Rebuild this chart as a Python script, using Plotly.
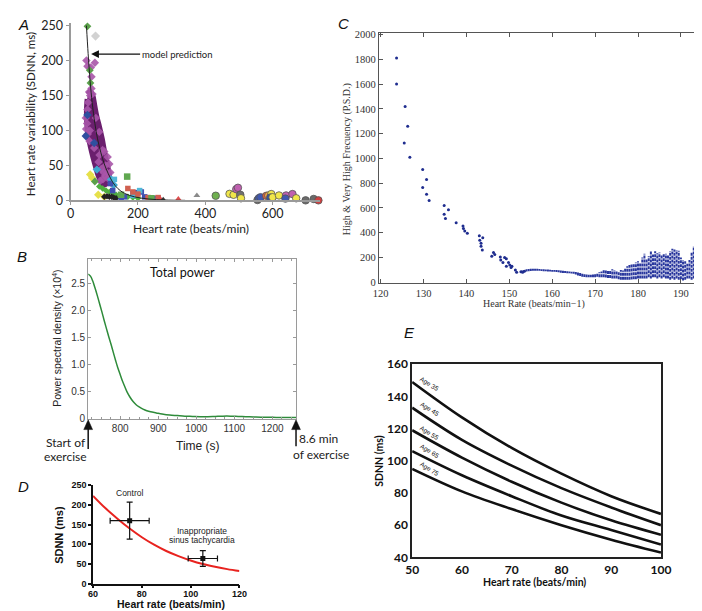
import plotly.graph_objects as go

W, H = 702, 611

# ---------------- Panel A data ----------------
core_hr = [52, 58, 66, 72, 78, 86, 94, 100, 106, 112, 115, 110, 100, 90, 82, 74, 66, 58, 52, 48, 47, 49]
core_sdnn = [152, 156, 150, 135, 120, 105, 88, 72, 58, 45, 35, 26, 22, 26, 35, 48, 62, 78, 92, 110, 128, 145]

purple_hr = [47, 50, 60, 62, 72, 55, 58, 65, 52, 75, 85, 95, 104, 108, 96, 88, 110, 100, 86, 57,
             50, 49, 51, 56, 83, 91, 98, 102, 70, 118, 115, 120, 110, 62, 45, 46, 122]
purple_sdnn = [200, 192, 190, 177, 197, 155, 150, 152, 140, 118, 98, 72, 50, 40, 30, 28, 32, 70, 65, 100,
               130, 110, 95, 85, 55, 45, 40, 35, 75, 40, 52, 30, 62, 160, 118, 102, 24]

model_hr = [47, 52, 58, 64, 72, 80, 90, 100, 112, 125, 140, 160, 190, 230, 280, 340]
model_sdnn = [250, 210, 170, 140, 110, 88, 68, 52, 38, 26, 17, 10, 5, 2, 0.5, 0]

blue_d_hr = [45, 50, 70]
blue_d_sdnn = [92, 122, 82]
cyan_d_hr = [78, 120, 128]
cyan_d_sdnn = [44, 30, 22]
yellow_d_hr = [58, 64, 82, 100]
yellow_d_sdnn = [37, 32, 8, 5]
green_d_hr = [50, 57, 59, 72]
green_d_sdnn = [249, 186, 168, 27]
grey_d_hr = [74]
grey_d_sdnn = [235]

green_x_hr = [85, 95, 105, 115, 125, 135, 145, 155, 170, 185, 200]
green_x_sdnn = [20, 17, 14, 12, 10, 8, 7, 6, 5, 4, 3]
black_hr = [100, 108, 115, 122, 128, 135]
black_sdnn = [5, 6, 5, 5, 4, 3]

blue_s_hr = [118, 125, 150, 160, 185, 195, 210, 220, 250]
blue_s_sdnn = [24, 14, 4, 5, 10, 11, 12, 5, 3]
cyan_s_hr = [130, 205, 185]
cyan_s_sdnn = [30, 14, 7]
red_s_hr = [170, 185, 200, 230, 260]
red_s_sdnn = [17, 12, 9, 4, 4]
green_s_hr = [168, 150, 240]
green_s_sdnn = [34, 8, 3]

tri_hr = [265, 320, 375, 275]
tri_sdnn = [3, 2, 7, 1]
tri_col = ["#e05050", "#e05050", "#8a8a8a", "#333333"]

circ_hr = [431, 472, 484, 492, 497, 504, 506, 555, 559, 564, 581, 587, 596, 593, 600, 619, 640, 638, 659, 670, 698, 722, 736]
circ_sdnn = [6.6, 9.3, 8, 16, 18, 8, 3, 0.5, 3, 4.5, 6.5, 7, 9, 4, 4.5, 7, 7, 2.5, 9, 3, 0, 2, 0]
circ_col = ["#6fb04f", "#f0e64a", "#f0e64a", "#c060b0", "#c060b0", "#707070", "#f0e64a", "#6a6a6a",
            "#4058b0", "#4058b0", "#e06040", "#f0a040", "#f0e64a", "#3050a0", "#f0e64a", "#f0e64a",
            "#c060b0", "#4058b0", "#c060b0", "#f0e64a", "#6a6a6a", "#6a6a6a", "#d04040"]

# ---------------- Panel B data ----------------
time_s = [716, 722, 728, 734, 740, 746, 752, 758, 764, 770, 776, 782, 788, 794, 800, 806, 812, 818,
          826, 834, 842, 850, 860, 870, 880, 895, 910, 930, 950, 970, 990, 1010, 1030, 1050, 1070,
          1090, 1110, 1130, 1150, 1170, 1190, 1210, 1230, 1262]
psd = [2.68, 2.64, 2.55, 2.42, 2.28, 2.13, 1.98, 1.82, 1.67, 1.52, 1.38, 1.23, 1.08, 0.94, 0.82, 0.70,
       0.60, 0.50, 0.40, 0.32, 0.26, 0.22, 0.18, 0.15, 0.13, 0.11, 0.09, 0.07, 0.06, 0.05, 0.045, 0.04,
       0.04, 0.045, 0.05, 0.05, 0.045, 0.04, 0.035, 0.03, 0.03, 0.025, 0.025, 0.025]

# ---------------- Panel C data ----------------
c_hr = [123.7, 123.7, 125.7, 126.3, 125.5, 126.8, 129.8, 129.8, 130.7, 130.7, 131.3, 134.8, 134.8, 135.1,
        135.8, 137.6, 139.2, 139.3, 139.6, 140.2, 143.0, 143.1, 143.4, 143.4, 143.7, 143.8, 146.3, 145.9,
        146.6, 147.9, 148.0, 148.9, 148.5, 149.3, 149.3, 149.8, 150.1, 150.4, 150.6, 151.4, 151.7, 152.7,
        153.5, 153.1]
c_psd = [1810, 1600, 1420, 1260, 1125, 1010, 910, 765, 830, 710, 660, 620, 550, 515,
         585, 480, 455, 435, 415, 395, 375, 340, 315, 290, 260, 360, 240, 210,
         225, 205, 180, 200, 160, 130, 190, 160, 140, 120, 130, 100, 80, 85,
         90, 80]
col_hr = [153, 153.5, 154, 154.5, 155, 155.5, 156, 156.5, 157, 157.5, 158, 158.5, 159, 159.5, 160, 160.5,
          161, 161.5, 162, 162.5, 163, 163.5, 164, 164.5, 165, 165.5, 166, 166.5, 167, 167.5, 168, 168.5,
          169, 169.5, 170, 170.5, 171, 171.5, 172, 172.5, 173, 173.5, 174, 174.5, 175, 175.5, 176, 176.5,
          177, 177.5, 178, 178.5, 179, 179.5, 180, 180.5, 181, 181.5, 182, 182.5, 183, 183.5, 184, 184.5,
          185, 185.5, 186, 186.5, 187, 187.5, 188, 188.5, 189, 189.5, 190, 190.5, 191, 191.5, 192, 192.5, 193]
col_low = [78, 82, 88, 90, 92, 93, 94, 94, 93, 92, 90, 90, 88, 88, 86, 85, 82, 80, 76, 75, 74, 73, 72, 70,
           68, 62, 55, 50, 45, 42, 40, 40, 40, 40, 40, 45, 40, 40, 40, 38, 35, 35, 30, 30, 30, 25, 20, 20,
           20, 20, 20, 22, 25, 25, 30, 30, 30, 30, 30, 40, 30, 40, 40, 30, 40, 30, 40, 30, 30, 20, 30, 20,
           30, 20, 25, 15, 20, 30, 30, 20, 30, 20, 35]
col_high = [95, 100, 105, 108, 110, 110, 110, 110, 108, 106, 105, 104, 104, 102, 100, 100, 100, 98, 95,
            94, 92, 90, 88, 86, 85, 82, 80, 75, 68, 64, 62, 60, 60, 62, 70, 75, 80, 88, 100, 95, 100, 100,
            105, 100, 95, 90, 100, 95, 110, 130, 140, 150, 145, 160, 170, 160, 200, 230, 190, 210, 255,
            225, 250, 235, 240, 220, 230, 230, 220, 250, 270, 265, 260, 255, 200, 180, 170, 150, 180,
            245, 290, 240, 140]

# ---------------- Panel D data ----------------
fit_hr = [60, 65, 70, 75, 80, 85, 90, 95, 100, 105, 110, 115, 120]
fit_sdnn = [223, 192, 165, 140, 118, 99, 83, 70, 59, 50, 43, 37, 32]
grp_hr = [75, 105]
grp_sdnn = [160, 64]
grp_hr_err = [8, 6]
grp_sdnn_plus = [47, 20]
grp_sdnn_minus = [47, 20]

# ---------------- Panel E data ----------------
e_hr = [50, 60, 70, 80, 90, 100]
e_ages = ["Age 35", "Age 45", "Age 55", "Age 65", "Age 75"]
e_sdnn = [
    [149, 127, 108, 92, 78, 67],
    [133, 113, 97, 83, 71, 60],
    [119, 102, 87, 74, 63, 54],
    [106, 91, 78, 66, 57, 48],
    [95, 81, 70, 60, 51, 43],
]
e_label_hr = [53.4, 53.4, 53.4, 53.4, 53.4]
e_label_sdnn = [148, 132, 117.5, 106, 95]


def dom_x(a, b):
    return [a / W, b / W]


def dom_y(top, bottom):
    return [1 - bottom / H, 1 - top / H]


def P(px, py):
    return px / W, 1 - py / H


fig = go.Figure()

# ---- Panel A traces ----
fig.add_trace(go.Scatter(x=core_hr, y=core_sdnn, fill="toself", mode="lines",
                         line=dict(color="#6b1f6e", width=5, shape="spline"), fillcolor="#6b1f6e",
                         xaxis="x", yaxis="y", hoverinfo="skip"))
fig.add_trace(go.Scatter(x=purple_hr, y=purple_sdnn, mode="markers",
                         marker=dict(symbol="diamond", size=6.5, color="#a955a9", opacity=0.9),
                         xaxis="x", yaxis="y"))


def add_pts(xs, ys, sym, size, color, line_col=None, ax="x", ay="y"):
    m = dict(symbol=sym, size=size, color=color)
    if line_col:
        m["line"] = dict(color=line_col, width=0.8)
    fig.add_trace(go.Scatter(x=xs, y=ys, mode="markers", marker=m, xaxis=ax, yaxis=ay, cliponaxis=False))


add_pts(blue_d_hr, blue_d_sdnn, "diamond", 6.5, "#2f4f9f")
add_pts(cyan_d_hr, cyan_d_sdnn, "diamond", 6.5, "#3fa8d0")
add_pts(yellow_d_hr, yellow_d_sdnn, "diamond", 6.5, "#e6e04a")
add_pts(green_d_hr, green_d_sdnn, "diamond", 6, "#5aa04a")
add_pts(grey_d_hr, grey_d_sdnn, "diamond", 7, "#d2d2d2")
add_pts(green_x_hr, green_x_sdnn, "diamond", 5, "#4fb040")
add_pts(black_hr, black_sdnn, "diamond", 5, "#222222")
add_pts(blue_s_hr, blue_s_sdnn, "square", 5.5, "#4050b0")
add_pts(cyan_s_hr, cyan_s_sdnn, "square", 5.5, "#50b8d8")
add_pts(red_s_hr, red_s_sdnn, "square", 5.5, "#d06050")
add_pts(green_s_hr, green_s_sdnn, "square", 6.5, "#60a850")
add_pts(tri_hr, tri_sdnn, "triangle-up", 6, tri_col)
add_pts(circ_hr, circ_sdnn, "circle", 7.5, circ_col, line_col="#555555")

fig.add_trace(go.Scatter(x=model_hr, y=model_sdnn, mode="lines",
                         line=dict(color="#222222", width=1, shape="spline"), xaxis="x", yaxis="y"))

# ---- Panel B ----
fig.add_trace(go.Scatter(x=time_s, y=psd, mode="lines", line=dict(color="#2e8b3a", width=1.5, shape="spline"),
                         xaxis="x2", yaxis="y2"))

# ---- Panel C ----
seg_x, seg_y = [], []
for xv, lo, hi in zip(col_hr, col_low, col_high):
    seg_x += [xv, xv, None]
    seg_y += [lo, hi, None]
fig.add_trace(go.Scatter(x=seg_x, y=seg_y, mode="lines", line=dict(color="#2a389e", width=2, dash="3px,1px"),
                         xaxis="x3", yaxis="y3"))
fig.add_trace(go.Scatter(x=c_hr, y=c_psd, mode="markers", marker=dict(size=3, color="#1f2d8f"),
                         xaxis="x3", yaxis="y3"))

# ---- Panel D ----
fig.add_trace(go.Scatter(x=fit_hr, y=fit_sdnn, mode="lines", line=dict(color="#e8231f", width=2, shape="spline"),
                         xaxis="x4", yaxis="y4", cliponaxis=False))
fig.add_trace(go.Scatter(x=grp_hr, y=grp_sdnn, mode="markers",
                         marker=dict(size=5, color="#111111", symbol="square"),
                         error_x=dict(type="data", array=grp_hr_err, color="#111111", thickness=1.2, width=3),
                         error_y=dict(type="data", array=grp_sdnn_plus, arrayminus=grp_sdnn_minus,
                                      color="#111111", thickness=1.2, width=3),
                         xaxis="x4", yaxis="y4"))

# ---- Panel E ----
for ys in e_sdnn:
    fig.add_trace(go.Scatter(x=e_hr, y=ys, mode="lines", line=dict(color="#111111", width=2.6, shape="spline"),
                             xaxis="x5", yaxis="y5"))

# ---------------- Layout ----------------
grey = "#9a9a9a"
layout = dict(
    width=W, height=H, margin=dict(l=0, r=0, t=0, b=0),
    paper_bgcolor="white", plot_bgcolor="white", showlegend=False,
    xaxis=dict(domain=dom_x(57, 313), range=[0, 742], anchor="y", tickvals=[0, 200, 400, 600],
               showline=True, linecolor=grey, linewidth=2, ticks="outside", tickcolor=grey, ticklen=3,
               ticklabelstandoff=-2,
               showgrid=False, zeroline=False, tickfont=dict(family="Lato", size=12.5, color="#222")),
    yaxis=dict(domain=dom_y(7, 189), range=[0, 254], anchor="x", tickvals=[0, 50, 100, 150, 200, 250],
               showline=True, linecolor=grey, linewidth=2, ticks="outside", tickcolor=grey, ticklen=3,
               showgrid=False, zeroline=False, tickfont=dict(family="Lato", size=12.5, color="#222")),
    xaxis2=dict(domain=dom_x(75, 288), range=[716, 1262], anchor="y2", tickvals=[800, 900, 1000, 1100, 1200],
                showline=True, mirror="allticks", linecolor=grey, linewidth=1, ticks="inside", tickcolor=grey,
                ticklen=3, showgrid=False, zeroline=False,
                minor=dict(dtick=25, tick0=0, ticks="inside", ticklen=2, tickcolor=grey),
                tickfont=dict(family="Liberation Sans", size=10, color="#333")),
    yaxis2=dict(domain=dom_y(249, 413), range=[0, 2.96], anchor="x2", tickvals=[0, 0.5, 1.0, 1.5, 2.0, 2.5],
                ticktext=["0", "0.5", "1.0", "1.5", "2.0", "2.5"],
                showline=True, mirror="allticks", linecolor=grey, linewidth=1, ticks="inside", tickcolor=grey,
                ticklen=3, showgrid=False, zeroline=False,
                tickfont=dict(family="Liberation Sans", size=10, color="#333")),
    xaxis3=dict(domain=dom_x(373, 700), range=[119.6, 194], anchor="y3", dtick=10, tick0=120,
                showline=True, mirror="allticks", linecolor="#555", linewidth=1, ticks="inside", tickcolor="#555",
                ticklen=4, showgrid=False, zeroline=False,
                tickfont=dict(family="Liberation Serif", size=10.5, color="#333")),
    yaxis3=dict(domain=dom_y(17, 274), range=[-8, 2016], anchor="x3", dtick=200, tick0=0,
                showline=True, mirror="allticks", linecolor="#555", linewidth=1, ticks="inside", tickcolor="#555",
                ticklen=4, showgrid=False, zeroline=False,
                tickfont=dict(family="Liberation Serif", size=10.5, color="#333")),
    xaxis4=dict(domain=dom_x(80, 230), range=[60, 120], anchor="y4", tickvals=[60, 80, 100, 120],
                showline=True, linecolor="#111", linewidth=1.5, ticks="outside", tickcolor="#111", ticklen=3,
                tickwidth=1.5, showgrid=False, zeroline=False, ticklabelstandoff=-2,
                tickfont=dict(family="Liberation Sans", size=9, color="#111", weight="bold")),
    yaxis4=dict(domain=dom_y(481, 582), range=[0, 250], anchor="x4", tickvals=[0, 50, 100, 150, 200, 250],
                showline=True, linecolor="#111", linewidth=1.5, ticks="outside", tickcolor="#111", ticklen=3,
                tickwidth=1.5, showgrid=False, zeroline=False,
                tickfont=dict(family="Liberation Sans", size=9, color="#111", weight="bold")),
    xaxis5=dict(domain=dom_x(407, 662), range=[50, 100], anchor="y5", dtick=10, tick0=50,
                showline=True, mirror=True, linecolor="#222", linewidth=1.5, ticks="", showgrid=False,
                zeroline=False, tickfont=dict(family="Lato", size=12, color="#111", weight="bold")),
    yaxis5=dict(domain=dom_y(357, 555), range=[40, 160], anchor="x5", dtick=20, tick0=40,
                showline=True, mirror=True, linecolor="#222", linewidth=1.5, ticks="", showgrid=False,
                zeroline=False, tickfont=dict(family="Lato", size=12, color="#111", weight="bold")),
)
fig.update_layout(**layout)

anns = []


def ann(text, px, py, size, family, color="#222", angle=0, weight="normal", xanchor="center"):
    x, y = P(px, py)
    anns.append(dict(text=text, x=x, y=y, xref="paper", yref="paper", showarrow=False,
                     font=dict(size=size, family=family, color=color, weight=weight),
                     textangle=angle, xanchor=xanchor, yanchor="middle"))


# Panel letters
for letter, px, py in [("A", 9, 9), ("B", 7, 247), ("C", 337, 8), ("D", 9, 482), ("E", 404, 324)]:
    ann("<i>" + letter + "</i>", px, py, 15, "Liberation Sans", color="#111")

# Panel A text
ann("Heart rate variability (SDNN, ms)", 16, 101, 11.5, "Lato", angle=-90)
ann("Heart rate (beats/min)", 180, 218, 12, "Lato")
tip_x, tip_y = P(78, 39)
anns.append(dict(text="model prediction", x=tip_x, y=tip_y, xref="paper", yref="paper", showarrow=True,
                 ax=86, ay=0, arrowhead=2, arrowsize=1.3, arrowwidth=1.2, arrowcolor="#111", standoff=0,
                 font=dict(size=9.5, family="Lato", color="#222")))

# Panel B text
ann("Power spectral density (×10<sup>4</sup>)", 43, 330, 10.5, "Liberation Sans", angle=-90)
ann("Total power", 172, 263, 12.5, "Lato", color="#111")
ann("Time (s)", 188, 441, 12, "Liberation Sans", color="#222")
ann("Start of", 52, 437, 12, "Lato")
ann("exercise", 52, 452, 12, "Lato")
ann("8.6 min", 311, 433, 12, "Lato")
ann("of exercise", 314, 450, 12, "Lato")

# Panel C text
ann("High &amp; Very High Frecuency (P.S.D.)", 341, 147, 10, "Liberation Serif", color="#333", angle=-90)
ann("Heart Rate (beats/min\u22121)", 532, 295, 10, "Liberation Serif", color="#333")

# Panel D text
ann("SDNN (ms)", 45, 532, 11, "Liberation Sans", color="#111", angle=-90, weight="bold")
ann("Heart rate (beats/min)", 160, 603, 10.5, "Liberation Sans", color="#111", weight="bold")
for txt, hx, sy in [("Control", 75.3, 230), ("Inappropriate", 104.7, 135), ("sinus tachycardia", 104.7, 112)]:
    anns.append(dict(text=txt, x=hx, y=sy, xref="x4", yref="y4", showarrow=False,
                     font=dict(size=8.5, family="Liberation Sans", color="#222")))

# Panel E text
ann("SDNN (ms)", 373, 456, 10.5, "Lato", color="#111", angle=-90, weight="bold")
ann("Heart rate (beats/min)", 532, 580, 10.5, "Lato", color="#111", weight="bold")
for txt, hx, sy in zip(e_ages, e_label_hr, e_label_sdnn):
    anns.append(dict(text=txt, x=hx, y=sy, xref="x5", yref="y5", showarrow=False, textangle=32,
                     font=dict(size=6.5, family="Liberation Sans", color="#111")))

fig.update_layout(annotations=anns)

# Arrows for panel B (shaft + head as shapes, paper coordinates)
shapes = []
for ax_px, top_py, bot_py in [(75, 414, 444), (288, 414, 441)]:
    x0, y_top = P(ax_px, top_py + 8)
    _, y_bot = P(ax_px, bot_py)
    shapes.append(dict(type="line", xref="paper", yref="paper", x0=x0, x1=x0, y0=y_bot, y1=y_top,
                       line=dict(color="#111", width=1.5)))
    xl, yb = P(ax_px - 4.5, top_py + 10)
    xr, _ = P(ax_px + 4.5, top_py + 10)
    xt, yt = P(ax_px, top_py)
    shapes.append(dict(type="path", xref="paper", yref="paper",
                       path=f"M {xl} {yb} L {xt} {yt} L {xr} {yb} Z",
                       fillcolor="#111", line=dict(color="#111", width=0.5)))
fig.update_layout(shapes=shapes)

fig.write_html("out.html")
